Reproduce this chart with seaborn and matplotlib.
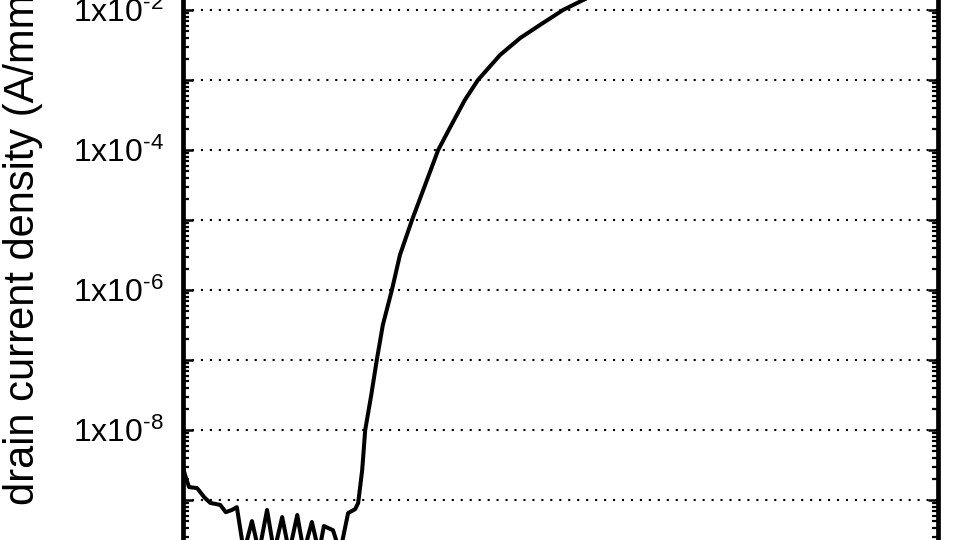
import matplotlib
matplotlib.use("Agg")
import matplotlib.pyplot as plt
import matplotlib.ticker as mticker
import numpy as np
import pandas as pd
import seaborn as sns

# gate voltage (V) and drain current density (A/mm)
vg = [-10.00, -9.94, -9.88, -9.72, -9.58, -9.46, -9.26, -9.15, -9.03, -8.93,
      -8.79, -8.63, -8.49, -8.33, -8.19, -8.03, -7.89, -7.73, -7.60, -7.44,
      -7.30, -7.20, -7.02, -6.88, -6.72, -6.58, -6.52, -6.44, -6.38, -6.26,
      -6.15, -6.03, -5.85, -5.69, -5.45, -5.19, -4.93, -4.70, -4.40, -4.14,
      -3.70, -3.30, -2.91, -2.45, -2.05, -1.32, -0.52, 0.67, 2.26, 5.00]
jd = [2.86e-9, 2.06e-9, 1.53e-9, 1.48e-9, 1.10e-9, 9.1e-10, 8.5e-10, 6.7e-10, 7.2e-10, 7.9e-10,
      1.8e-10, 5.0e-10, 1.8e-10, 7.2e-10, 1.8e-10, 5.7e-10, 1.8e-10, 6.1e-10, 1.8e-10, 4.85e-10,
      1.8e-10, 4.25e-10, 3.7e-10, 1.8e-10, 6.5e-10, 7.4e-10, 9.06e-10, 2.68e-9, 1.0e-8, 3.16e-8,
      1.0e-7, 3.16e-7, 1.0e-6, 3.16e-6, 1.0e-5, 3.16e-5, 1.0e-4, 2.06e-4, 5.18e-4, 1.0e-3,
      2.28e-3, 3.98e-3, 6.1e-3, 1.0e-2, 1.39e-2, 2.28e-2, 3.38e-2, 5.18e-2, 7.69e-2, 1.07e-1]

df = pd.DataFrame({"vg": vg, "jd": jd})

sns.set_style("ticks")
plt.rcParams["font.family"] = ["Liberation Sans", "DejaVu Sans"]
plt.rcParams["mathtext.fontset"] = "custom"
plt.rcParams["mathtext.rm"] = "Liberation Sans"
plt.rcParams["text.color"] = "black"
plt.rcParams["axes.edgecolor"] = "black"
plt.rcParams["ytick.color"] = "black"
plt.rcParams["ytick.labelcolor"] = "black"

fig = plt.figure(figsize=(9.6, 5.4), dpi=100)
# the picture is a crop of a taller plot, so the axes run past the figure edges
ax = fig.add_axes([183 / 960, -0.25, 755 / 960, 1.5])

sns.lineplot(data=df, x="vg", y="jd", color="black", linewidth=2.9,
             estimator=None, sort=False, ax=ax)

ax.set_yscale("log")
ax.set_ylim(10 ** -11.5, 10 ** (-2 + 145 / 70))
ax.set_xlim(-10, 5)

ax.yaxis.set_major_locator(mticker.LogLocator(base=10, numticks=20))
ax.yaxis.set_minor_locator(mticker.LogLocator(base=10, subs=np.arange(2, 10), numticks=20))


def fmt(v, pos):
    e = int(round(np.log10(v)))
    if e % 2 == 0:
        return r"$\mathregular{1x10^{\text{-}%d}}$" % abs(e)
    return ""


ax.yaxis.set_major_formatter(mticker.FuncFormatter(fmt))
ax.yaxis.set_minor_formatter(mticker.NullFormatter())

ax.grid(True, which="major", axis="y", color="black", linestyle=(0, (1, 3.3)), linewidth=1.5)
ax.grid(False, axis="x")

for side in ["left", "right"]:
    ax.spines[side].set_linewidth(3.4)
ax.spines["top"].set_visible(False)
ax.spines["bottom"].set_visible(False)

ax.tick_params(axis="y", which="major", direction="in", length=7, width=1.8,
               left=True, right=True, labelsize=23, pad=14)
ax.tick_params(axis="y", which="minor", direction="in", length=4.5, width=1.6,
               left=True, right=True)
ax.tick_params(axis="x", bottom=False, labelbottom=False)
ax.set_xlabel("")
ax.set_ylabel("")

fig.text(0.024, 1 - 505 / 540, "drain current density (A/mm)", rotation=90,
         ha="center", va="bottom", fontsize=30)

fig.savefig("out.png", dpi=100)
